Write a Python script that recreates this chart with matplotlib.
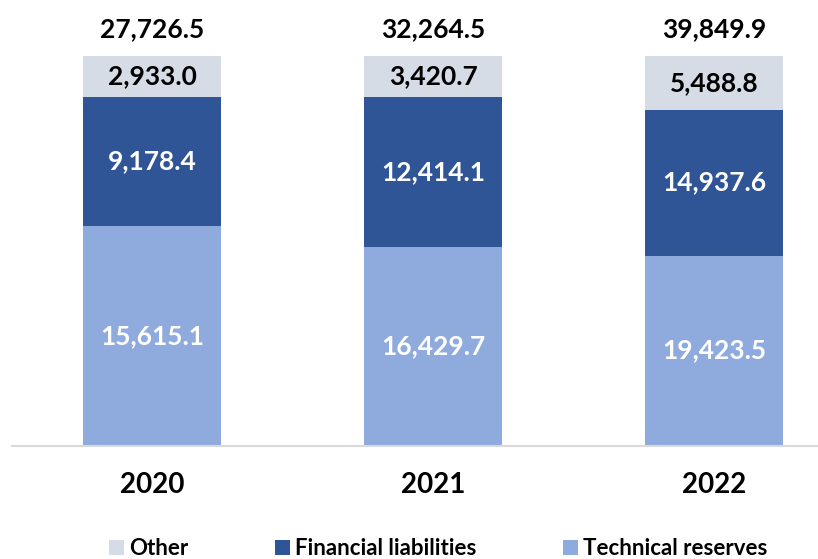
import numpy as np
import matplotlib.pyplot as plt

# --- Data ---
years = ["2020", "2021", "2022"]
technical = np.array([15615.1, 16429.7, 19423.5])
financial = np.array([9178.4, 12414.1, 14937.6])
other = np.array([2933.0, 3420.7, 5488.8])

total = technical + financial + other

# shares (100% stacked)
tech_sh = technical / total
fin_sh = financial / total
oth_sh = other / total

c_tech = "#8FAADC"
c_fin = "#2F5597"
c_oth = "#D6DCE5"

plt.rcParams['font.family'] = ['Lato', 'DejaVu Sans']

fig = plt.figure(figsize=(8.18, 5.59), dpi=100)
ax = fig.add_axes([11.5 / 818, 0.203, 843 / 818, 0.697])

x = np.arange(len(years))
w = 0.49
ax.bar(x, tech_sh, w, color=c_tech, label="Technical reserves")
ax.bar(x, fin_sh, w, bottom=tech_sh, color=c_fin, label="Financial liabilities")
ax.bar(x, oth_sh, w, bottom=tech_sh + fin_sh, color=c_oth, label="Other")

fs = 19
for i in range(len(years)):
    ax.text(x[i], tech_sh[i] / 2, f"{technical[i]:,.1f}", ha='center', va='center',
            color='white', fontsize=fs, fontweight='bold')
    ax.text(x[i], tech_sh[i] + fin_sh[i] / 2, f"{financial[i]:,.1f}", ha='center', va='center',
            color='white', fontsize=fs, fontweight='bold')
    ax.text(x[i], tech_sh[i] + fin_sh[i] + oth_sh[i] / 2, f"{other[i]:,.1f}", ha='center',
            va='center', color='black', fontsize=fs, fontweight='bold')
    ax.annotate(f"{total[i]:,.1f}", (x[i], 1.0), xytext=(0, 19), textcoords='offset points',
                ha='center', va='center', fontsize=fs, fontweight='bold', annotation_clip=False)

ax.set_xlim(-0.5, 2.5)
ax.set_ylim(0, 1)
ax.set_xticks(x)
ax.set_xticklabels(years, fontsize=20, fontweight='bold')
ax.tick_params(axis='x', length=0, pad=19)
ax.set_yticks([])
for s in ['top', 'right', 'left']:
    ax.spines[s].set_visible(False)
ax.spines['bottom'].set_color('#D9D9D9')
ax.spines['bottom'].set_linewidth(1.5)

handles, labels = ax.get_legend_handles_labels()
fig.legend(handles[::-1], labels[::-1], loc='center', bbox_to_anchor=(0.536, 0.018), ncol=3,
           frameon=False, prop={'size': 16, 'weight': 'bold'}, handlelength=0.65,
           handleheight=0.65, handletextpad=0.25, columnspacing=3.9)

plt.savefig("out.png", dpi=100)
